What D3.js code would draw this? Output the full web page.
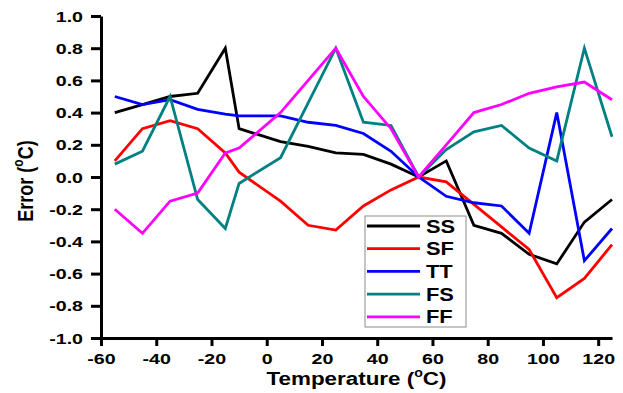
<!DOCTYPE html>
<html>
<head>
<meta charset="utf-8">
<script src="https://cdn.jsdelivr.net/npm/d3@7"></script>
<style>
  body { margin: 0; background: #fff; }
  svg { display: block; }
  text { font-family: "Liberation Sans", Arial, sans-serif; font-weight: bold; }
</style>
</head>
<body>
<svg id="chart" width="623" height="393"></svg>
<script>
// temperatures where the error was measured
const temps = [-55, -45, -35, -25, -15, -10, 5, 15, 25, 35, 45, 55, 65, 75, 85, 95, 105, 115, 125];

// error (°C) for each corner
const ss = [0.40, 0.45, 0.50, 0.52, 0.80, 0.30, 0.22, 0.19, 0.15, 0.14, 0.08, 0.00, 0.10, -0.30, -0.35, -0.48, -0.54, -0.28, -0.14];
const sf = [0.10, 0.30, 0.35, 0.30, 0.15, 0.03, -0.15, -0.30, -0.33, -0.18, -0.08, 0.00, -0.03, -0.17, -0.31, -0.45, -0.75, -0.63, -0.42];
const tt = [0.50, 0.45, 0.48, 0.42, 0.39, 0.38, 0.38, 0.34, 0.32, 0.27, 0.16, 0.00, -0.12, -0.16, -0.18, -0.35, 0.40, -0.52, -0.32];
const fs = [0.08, 0.16, 0.50, -0.14, -0.32, -0.04, 0.12, 0.46, 0.80, 0.34, 0.32, 0.00, 0.17, 0.28, 0.32, 0.18, 0.10, 0.80, 0.25];
const ff = [-0.20, -0.35, -0.15, -0.10, 0.15, 0.18, 0.40, 0.60, 0.80, 0.50, 0.30, 0.00, 0.20, 0.40, 0.45, 0.52, 0.56, 0.59, 0.48];

const seriesNames = ['SS', 'SF', 'TT', 'FS', 'FF'];
const seriesColors = ['#000000', '#ff0000', '#0000ff', '#008080', '#ff00ff'];

const xTicks = [-60, -40, -20, 0, 20, 40, 60, 80, 100, 120];
const yTicks = [-1.0, -0.8, -0.6, -0.4, -0.2, 0.0, 0.2, 0.4, 0.6, 0.8, 1.0];

const allSeries = [ss, sf, tt, fs, ff];

const svg = d3.select('#chart');

// the original picture is stretched sideways a bit, so text gets widened too
const stretch = 1.25;
const tickStretch = 1.4;

const x = d3.scaleLinear().domain([-60, 125]).range([101, 612]);
const y = d3.scaleLinear().domain([-1, 1]).range([338, 16]);

// lines first, axes drawn on top
const line = d3.line()
    .x((d, i) => x(temps[i]))
    .y(d => y(d));

allSeries.forEach((vals, k) => {
  svg.append('path')
      .datum(vals)
      .attr('d', line)
      .attr('fill', 'none')
      .attr('stroke', seriesColors[k])
      .attr('stroke-width', 2.8)
      .attr('stroke-linejoin', 'miter');
});

// x axis
const xAxis = svg.append('g')
    .attr('transform', `translate(0, ${y(-1)})`)
    .call(d3.axisBottom(x).tickValues(xTicks).tickSize(8).tickSizeOuter(0).tickFormat(d => d));

xAxis.select('.domain').attr('stroke-width', 3);
xAxis.selectAll('.tick line').attr('stroke-width', 3);
xAxis.selectAll('.tick text')
    .attr('y', null).attr('dy', null)
    .attr('transform', `translate(0, 26) scale(${tickStretch}, 1)`)
    .style('font-size', '14px')
    .attr('fill', '#000');

// y axis
const yAxis = svg.append('g')
    .attr('transform', `translate(${x(-60)}, 0)`)
    .call(d3.axisLeft(y).tickValues(yTicks).tickSize(10).tickSizeOuter(0).tickFormat(d => d.toFixed(1)));

yAxis.select('.domain').attr('stroke-width', 3);
yAxis.selectAll('.tick line').attr('stroke-width', 3);
yAxis.selectAll('.tick text')
    .attr('x', null).attr('dy', '0.36em')
    .attr('transform', `translate(-18, 0) scale(${tickStretch}, 1)`)
    .style('font-size', '14px')
    .attr('fill', '#000');

// axis titles with superscript degree
const xTitle = svg.append('text')
    .attr('text-anchor', 'middle')
    .attr('transform', `translate(${(x(-60) + x(125)) / 2}, 385) scale(1.18, 1)`)
    .style('font-size', '19px');
xTitle.append('tspan').text('Temperature (');
xTitle.append('tspan').text('o').attr('dy', -8).style('font-size', '12px');
xTitle.append('tspan').text('C)').attr('dy', 8);

const yTitle = svg.append('text')
    .attr('text-anchor', 'middle')
    .attr('transform', 'translate(33, 181) rotate(-90) scale(1, 1.25)')
    .style('font-size', '18px');
yTitle.append('tspan').text('Error (');
yTitle.append('tspan').text('o').attr('dy', -8).style('font-size', '12px');
yTitle.append('tspan').text('C)').attr('dy', 8);

// legend
const legend = svg.append('g').attr('transform', 'translate(365, 216)');

legend.append('rect')
    .attr('width', 101)
    .attr('height', 111)
    .attr('fill', '#fff')
    .attr('stroke', '#8c8c8c')
    .attr('stroke-width', 1);

seriesNames.forEach((name, i) => {
  const cy = 10 + i * 22.7;
  legend.append('line')
      .attr('x1', 2).attr('x2', 55)
      .attr('y1', cy).attr('y2', cy)
      .attr('stroke', seriesColors[i])
      .attr('stroke-width', 2.8);
  legend.append('text')
      .attr('transform', `translate(61, ${cy + 6.5}) scale(${stretch}, 1)`)
      .style('font-size', '17.5px')
      .text(name);
});
</script>
</body>
</html>
